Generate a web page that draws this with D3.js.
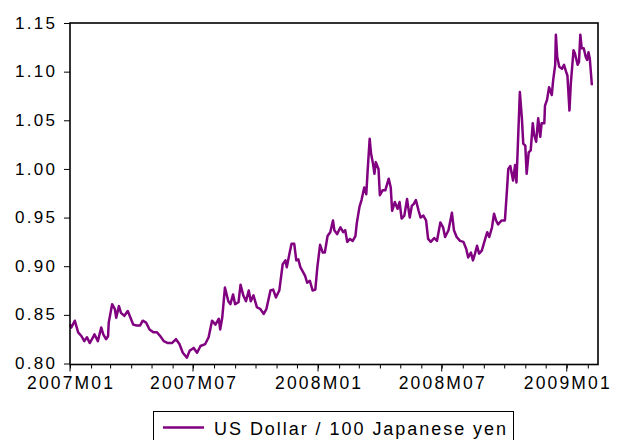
<!DOCTYPE html>
<html>
<head>
<meta charset="utf-8">
<script src="https://cdn.jsdelivr.net/npm/d3@7"></script>
<style>
  body { margin: 0; background: #fff; }
  svg { display: block; }
  text { font-family: "Liberation Sans", Arial, sans-serif; fill: #000; }
</style>
</head>
<body>
<svg id="chart" width="620" height="440"></svg>
<script>
// rate, roughly every few days (more points where it jumps)
var dates = [
  // 2007
  "2007-01-01","2007-01-03","2007-01-08","2007-01-13","2007-01-18","2007-01-22","2007-01-26","2007-01-30",
  "2007-02-04","2007-02-06","2007-02-11","2007-02-16","2007-02-19","2007-02-23","2007-02-26","2007-02-27",
  "2007-03-04","2007-03-08","2007-03-10","2007-03-14","2007-03-17","2007-03-22","2007-03-27","2007-03-31",
  "2007-04-04","2007-04-09","2007-04-14","2007-04-18","2007-04-23","2007-04-28",
  "2007-05-04","2007-05-09","2007-05-14","2007-05-19","2007-05-25","2007-05-31",
  "2007-06-06","2007-06-11","2007-06-16","2007-06-22","2007-06-26",
  "2007-07-02","2007-07-07","2007-07-12","2007-07-19","2007-07-24","2007-07-29",
  "2007-08-03","2007-08-08","2007-08-10","2007-08-13","2007-08-17","2007-08-22","2007-08-25","2007-08-29",
  "2007-09-01","2007-09-06","2007-09-09","2007-09-13","2007-09-17","2007-09-21","2007-09-24","2007-09-28",
  "2007-10-03","2007-10-08","2007-10-13","2007-10-17","2007-10-23","2007-10-27","2007-10-31",
  "2007-11-05","2007-11-10","2007-11-14","2007-11-16","2007-11-20","2007-11-23","2007-11-27","2007-11-30",
  "2007-12-03","2007-12-06","2007-12-10","2007-12-13","2007-12-16","2007-12-20","2007-12-24","2007-12-28","2007-12-31",
  // 2008
  "2008-01-04","2008-01-08","2008-01-11","2008-01-15","2008-01-19","2008-01-23","2008-01-25","2008-01-29",
  "2008-02-03","2008-02-07","2008-02-10","2008-02-13","2008-02-17","2008-02-21","2008-02-25","2008-02-27",
  "2008-03-02","2008-03-05","2008-03-09","2008-03-12","2008-03-14","2008-03-17","2008-03-19","2008-03-22","2008-03-24","2008-03-26","2008-03-30",
  "2008-04-01","2008-04-05","2008-04-09","2008-04-14","2008-04-17","2008-04-19","2008-04-23","2008-04-27","2008-04-30",
  "2008-05-03","2008-05-07","2008-05-11","2008-05-15","2008-05-18","2008-05-21","2008-05-24","2008-05-28","2008-05-31",
  "2008-06-04","2008-06-08","2008-06-11","2008-06-15","2008-06-20","2008-06-24","2008-06-29",
  "2008-07-03","2008-07-06","2008-07-11","2008-07-16","2008-07-19","2008-07-23","2008-07-28",
  "2008-08-02","2008-08-06","2008-08-09","2008-08-13","2008-08-16","2008-08-19","2008-08-22","2008-08-25","2008-08-29",
  "2008-09-03","2008-09-06","2008-09-09","2008-09-13","2008-09-16","2008-09-19","2008-09-22","2008-09-27",
  "2008-10-02","2008-10-05","2008-10-07","2008-10-10","2008-10-14","2008-10-17","2008-10-19","2008-10-24","2008-10-27","2008-10-29",
  "2008-11-01","2008-11-03","2008-11-06","2008-11-09","2008-11-12","2008-11-14","2008-11-17","2008-11-20","2008-11-23","2008-11-25","2008-11-29","2008-11-30",
  "2008-12-03","2008-12-06","2008-12-10","2008-12-12","2008-12-15","2008-12-16","2008-12-18","2008-12-21","2008-12-25","2008-12-28","2008-12-31",
  // 2009
  "2009-01-02","2009-01-05","2009-01-07","2009-01-11","2009-01-13","2009-01-17","2009-01-19","2009-01-21",
  "2009-01-23","2009-01-26","2009-01-29","2009-01-31","2009-02-02","2009-02-04","2009-02-07"
];

var rates = [
  0.840,0.837,0.844,0.832,0.828,0.823,0.827,0.821,
  0.827,0.830,0.823,0.837,0.830,0.825,0.828,0.842,
  0.861,0.856,0.847,0.859,0.852,0.849,0.854,0.847,
  0.840,0.839,0.839,0.844,0.842,0.835,
  0.832,0.832,0.828,0.823,0.821,0.821,
  0.825,0.820,0.811,0.806,0.813,
  0.816,0.811,0.818,0.820,0.827,0.844,
  0.840,0.846,0.835,0.847,0.878,0.864,0.861,0.871,
  0.861,0.863,0.881,0.870,0.864,0.875,0.864,0.870,
  0.858,0.856,0.851,0.856,0.875,0.876,0.868,
  0.875,0.902,0.906,0.899,0.913,0.923,0.923,0.906,
  0.907,0.899,0.894,0.890,0.883,0.885,0.875,0.876,0.899,
  0.922,0.914,0.914,0.931,0.935,0.947,0.937,0.933,
  0.940,0.935,0.937,0.925,0.928,0.926,0.931,0.944,
  0.961,0.968,0.981,0.974,0.998,1.031,1.016,1.005,0.995,1.007,1.000,
  0.973,0.978,0.978,0.990,0.981,0.957,0.966,0.959,0.966,
  0.949,0.952,0.969,0.950,0.962,0.964,0.968,0.957,0.950,
  0.952,0.947,0.928,0.925,0.929,0.926,0.945,
  0.940,0.930,0.937,0.955,0.937,0.930,0.926,
  0.925,0.918,0.909,0.914,0.906,0.913,0.921,0.913,0.916,
  0.928,0.935,0.930,0.940,0.954,0.947,0.943,0.947,
  0.947,0.978,1.000,1.003,0.988,1.004,0.986,1.079,1.052,1.026,
  1.024,0.995,1.017,1.019,1.047,1.035,1.028,1.052,1.033,1.047,1.047,1.065,
  1.071,1.084,1.076,1.091,1.107,1.138,1.115,1.105,1.103,1.107,1.100,
  1.096,1.060,1.088,1.122,1.119,1.107,1.110,1.138,
  1.124,1.124,1.115,1.112,1.120,1.113,1.086
];

var yTicks = [0.80, 0.85, 0.90, 0.95, 1.00, 1.05, 1.10, 1.15];
var xLabelDates = ["2007-01-01", "2007-07-01", "2008-01-01", "2008-07-01", "2009-01-01"];
var xTickLabels = ["2007M01", "2007M07", "2008M01", "2008M07", "2009M01"];
var xRange = ["2007-01-01", "2009-02-16"];
var seriesName = "US Dollar / 100 Japanese yen";

var parse = d3.timeParse("%Y-%m-%d");
var series = dates.map(function (d, i) {
  return { date: parse(d), value: rates[i] };
});

var box = { left: 70, right: 598, top: 23, bottom: 364.5 };
var svg = d3.select("#chart");

var x = d3.scaleTime()
  .domain(xRange.map(parse))
  .range([box.left, box.right]);
var y = d3.scaleLinear()
  .domain([0.80, 1.15])
  .range([363.5, box.top]);

// y axis, ticks point out to the left
var yAxis = svg.append("g")
  .attr("transform", "translate(" + box.left + ",0)")
  .call(d3.axisLeft(y).tickValues(yTicks).tickSize(6).tickFormat(d3.format(".2f")));
yAxis.select(".domain").remove();
yAxis.selectAll("line").attr("stroke", "#000");
yAxis.selectAll("text")
  .attr("x", -15)
  .attr("dy", "0.3em")
  .attr("font-size", 17)
  .attr("textLength", 40)
  .attr("lengthAdjust", "spacing");
yAxis.attr("font-family", null).attr("font-size", null);

// small monthly ticks under the frame
var months = d3.timeMonth.range(parse(xRange[0]), parse(xRange[1]));
var xAxis = svg.append("g")
  .attr("transform", "translate(0," + box.bottom + ")")
  .call(d3.axisBottom(x).tickValues(months).tickSize(4).tickFormat(""));
xAxis.select(".domain").remove();
xAxis.selectAll("line").attr("stroke", "#000");

// labelled ticks are a bit longer
var labelled = svg.append("g").selectAll("g")
  .data(xLabelDates)
  .enter().append("g")
  .attr("transform", function (d) { return "translate(" + x(parse(d)) + "," + box.bottom + ")"; });
labelled.append("line")
  .attr("y2", 7)
  .attr("stroke", "#000");
labelled.append("text")
  .attr("y", 24.5)
  .attr("text-anchor", "middle")
  .attr("font-size", 17.5)
  .attr("textLength", 86)
  .attr("lengthAdjust", "spacing")
  .text(function (d, i) { return xTickLabels[i]; });

var line = d3.line()
  .x(function (d) { return x(d.date); })
  .y(function (d) { return y(d.value); });

svg.append("path")
  .datum(series)
  .attr("d", line)
  .attr("fill", "none")
  .attr("stroke", "#800080")
  .attr("stroke-width", 2.5)
  .attr("stroke-linejoin", "round");

// frame around the plot
svg.append("rect")
  .attr("x", box.left)
  .attr("y", box.top)
  .attr("width", box.right - box.left)
  .attr("height", box.bottom - box.top)
  .attr("fill", "none")
  .attr("stroke", "#000")
  .attr("stroke-width", 1.6);

// legend box, runs off the bottom edge like the original
var legend = svg.append("g");
legend.append("rect")
  .attr("x", 153.5)
  .attr("y", 411.5)
  .attr("width", 360)
  .attr("height", 40)
  .attr("fill", "#fff")
  .attr("stroke", "#000")
  .attr("stroke-width", 1);
legend.append("line")
  .attr("x1", 163).attr("x2", 204)
  .attr("y1", 427.5).attr("y2", 427.5)
  .attr("stroke", "#800080")
  .attr("stroke-width", 2.5);
legend.append("text")
  .attr("x", 214)
  .attr("y", 435)
  .attr("font-size", 18)
  .attr("textLength", 292)
  .attr("lengthAdjust", "spacing")
  .text(seriesName);
</script>
</body>
</html>
